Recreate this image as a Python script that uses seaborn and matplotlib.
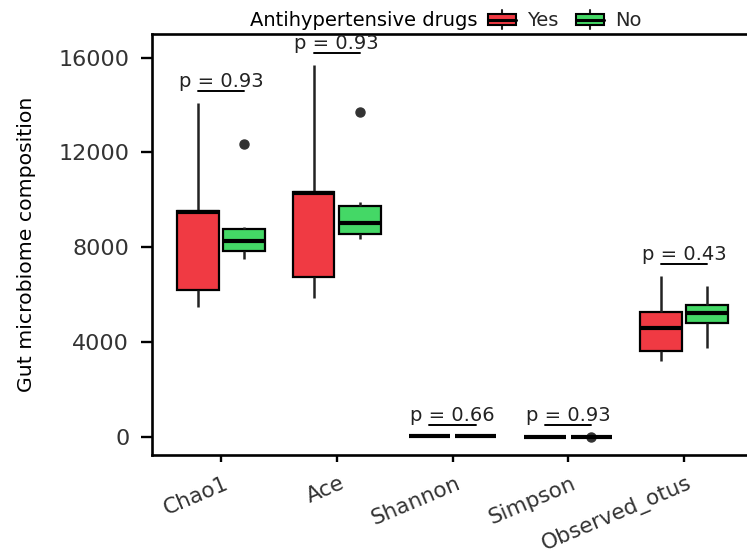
import pandas as pd
import matplotlib
matplotlib.use('Agg')
import matplotlib.pyplot as plt
import matplotlib.transforms as mtransforms
from matplotlib.patches import Rectangle
from matplotlib.lines import Line2D
from matplotlib.legend_handler import HandlerBase
import seaborn as sns

metrics = ['Chao1', 'Ace', 'Shannon', 'Simpson', 'Observed_otus']
groups = ['Yes', 'No']
colors = {'Yes': '#F03A43', 'No': '#44D866'}

chao1_yes = [5460, 5900, 6180, 7800, 9480, 9500, 9520, 11800, 14090]
chao1_no = [7490, 7700, 7830, 8050, 8250, 8500, 8760, 8850, 12360]
ace_yes = [5840, 6300, 6730, 8200, 10300, 10320, 10340, 12500, 15700]
ace_no = [8340, 8450, 8550, 8800, 9010, 9400, 9730, 9900, 13710]
shannon_yes = [3.2, 3.9, 4.3, 4.6, 4.9, 5.1, 5.3, 5.6, 6.0]
shannon_no = [3.6, 4.1, 4.5, 4.8, 5.0, 5.2, 5.4, 5.7, 6.1]
simpson_yes = [0.82, 0.86, 0.88, 0.90, 0.92, 0.93, 0.94, 0.95, 0.96]
simpson_no = [0.55, 0.88, 0.90, 0.91, 0.93, 0.94, 0.95, 0.96, 0.97]
otus_yes = [3170, 3400, 3600, 4100, 4570, 4900, 5250, 5900, 6770]
otus_no = [3720, 4400, 4780, 5000, 5200, 5400, 5540, 5900, 6350]

p_values = ['0.93', '0.93', '0.66', '0.93', '0.43']
y_ticks = [0, 4000, 8000, 12000, 16000]

series = {
    ('Chao1', 'Yes'): chao1_yes, ('Chao1', 'No'): chao1_no,
    ('Ace', 'Yes'): ace_yes, ('Ace', 'No'): ace_no,
    ('Shannon', 'Yes'): shannon_yes, ('Shannon', 'No'): shannon_no,
    ('Simpson', 'Yes'): simpson_yes, ('Simpson', 'No'): simpson_no,
    ('Observed_otus', 'Yes'): otus_yes, ('Observed_otus', 'No'): otus_no,
}
rows = []
for (m, g), vals in series.items():
    for v in vals:
        rows.append({'metric': m, 'group': g, 'value': v})
df = pd.DataFrame(rows)


class BoxKey(HandlerBase):
    """Legend key drawn like a small boxplot"""
    def create_artists(self, legend, orig_handle, xdescent, ydescent,
                       width, height, fontsize, trans):
        x0, y0 = -xdescent, -ydescent
        box = Rectangle((x0, y0 + 0.22 * height), width, 0.56 * height,
                        facecolor=orig_handle.get_facecolor(), edgecolor='black',
                        linewidth=1.5, transform=trans)
        med = Line2D([x0, x0 + width], [y0 + 0.5 * height] * 2, color='black',
                     linewidth=2.2, transform=trans)
        w1 = Line2D([x0 + width / 2] * 2, [y0, y0 + 0.22 * height], color='#222222',
                    linewidth=1.5, transform=trans)
        w2 = Line2D([x0 + width / 2] * 2, [y0 + 0.78 * height, y0 + height],
                    color='#222222', linewidth=1.5, transform=trans)
        return [w1, w2, box, med]


sns.set_style('white')
plt.rcParams['font.family'] = ['DejaVu Sans']

W, H = 747, 554
fig = plt.figure(figsize=(W / 100, H / 100), dpi=100)
ax = fig.add_axes([151.5 / W, 1 - 455 / H, (753.5 - 151.5) / W, (455 - 34) / H])

sns.boxplot(data=df, x='metric', y='value', hue='group', order=metrics,
            hue_order=groups, palette=colors, saturation=1, width=0.8, gap=0.1,
            linecolor='black', linewidth=1.6, fliersize=6.5,
            flierprops=dict(marker='o', markerfacecolor='#333333',
                            markeredgecolor='#333333'),
            medianprops=dict(color='black', linewidth=3.0),
            whiskerprops=dict(color='#222222', linewidth=1.8),
            capprops=dict(linewidth=0), legend=False, ax=ax)

# significance brackets
for i, m in enumerate(metrics):
    top = max(series[(m, 'Yes')] + series[(m, 'No')]) + 500
    ax.plot([i - 0.2, i + 0.2], [top, top], color='black', linewidth=1.4)
    ax.text(i, top, f'p = {p_values[i]}', ha='center', va='bottom',
            fontsize=14, color='#222222')

ax.set_xlim(-0.6, len(metrics) - 0.4)
ax.set_ylim(-780, 17000)
ax.set_yticks(y_ticks)
ax.set_yticklabels([str(t) for t in y_ticks])
ax.set_xlabel('')
ax.set_ylabel('Gut microbiome composition', fontsize=14.7, color='black', va='center')
ax.yaxis.set_label_coords(-0.207, 0.5)

for s in ax.spines.values():
    s.set_visible(True)
    s.set_linewidth(1.9)
    s.set_color('black')

ax.tick_params(axis='y', length=8, width=1.7, pad=8, labelsize=16,
               labelcolor='#333333', color='black', left=True)
ax.tick_params(axis='x', length=5, width=1.7, pad=8, labelsize=15.5,
               labelcolor='#333333', color='black', bottom=True)
offset = mtransforms.ScaledTranslation(2 / 72, 0, fig.dpi_scale_trans)
for lab in ax.get_xticklabels():
    lab.set_rotation(23)
    lab.set_ha('right')
    lab.set_va('top')
    lab.set_rotation_mode('anchor')
    lab.set_transform(lab.get_transform() + offset)

# legend on top
fig.text(478 / W, 1 - 20 / H, 'Antihypertensive drugs', ha='right', va='center',
         fontsize=14, color='black')
handles = [Rectangle((0, 0), 1, 1, facecolor=colors[g]) for g in groups]
fig.legend(handles, groups, loc='center left', bbox_to_anchor=(488 / W, 1 - 20 / H),
           ncol=2, frameon=False, fontsize=14, handlelength=1.45, handleheight=1.15,
           handletextpad=0.55, columnspacing=0.9, borderpad=0, borderaxespad=0,
           handler_map={Rectangle: BoxKey()})

fig.savefig('out.png', dpi=100)
